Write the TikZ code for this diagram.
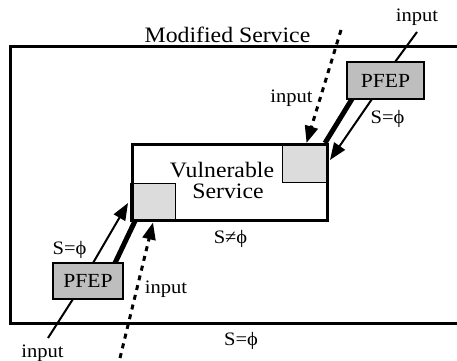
\documentclass[tikz,border=0pt]{standalone}
\usepackage{fontspec}
\setmainfont[FakeStretch=1.08]{Liberation Serif}
\usetikzlibrary{arrows.meta,calc}
\definecolor{pgray}{RGB}{190,190,190}
\definecolor{lgray}{RGB}{220,220,220}
\begin{document}
\begin{tikzpicture}[x=1pt,y=-1pt,
  lbl/.style={font=\fontsize{19}{21}\selectfont, inner sep=0, anchor=base},
  pfep/.style={draw, line width=2.5pt, fill=pgray, inner sep=0, outer sep=0,
    font=\fontsize{20}{22}\selectfont},
  sqbox/.style={draw, line width=0.8pt, fill=lgray, inner sep=0, outer sep=0},
  vbox/.style={draw, line width=3pt, inner sep=0, outer sep=0, align=center,
    font=\fontsize{22}{21}\selectfont, minimum width=195pt, minimum height=76pt},
  tipS/.style={-{Triangle[length=17pt,width=13pt]}},
  thinarrow/.style={line width=2pt, tipS},
  thickline/.style={line width=5pt},
  dotarrow/.style={line width=3pt, dash pattern=on 5pt off 5pt, tipS},
  frame/.style={line width=3pt},
]
\useasboundingbox (0,0) rectangle (457,360);

% outer (modified service) frame, open to the right
\draw[frame] (457,46.5) -- (10,46.5) -- (10,323) -- (457,323);
\node[inner sep=0, anchor=base, font=\fontsize{22}{24}\selectfont] (mod) at (227.5,42) {Modified Service};

% gray squares inside the vulnerable service
\node[sqbox, minimum width=45pt, minimum height=37pt] (sqU) at (304.5,163.5) {};
\node[sqbox, minimum width=45pt, minimum height=38pt] (sqL) at (153,202) {};

% vulnerable service box
\node[vbox] (vs) at (229.5,182) {};
\node[inner sep=0, anchor=base, font=\fontsize{22}{24}\selectfont] (vs1) at (222,177) {Vulnerable};
\node[inner sep=0, anchor=base, font=\fontsize{22}{24}\selectfont] (vs2) at (228,198) {Service};

% PFEP boxes
\node[pfep, minimum width=77pt, minimum height=37pt] (pU) at (385.5,80.5) {PFEP};
\node[pfep, minimum width=70pt, minimum height=36pt] (pL) at (88,281) {PFEP};

% free ends
\coordinate (inUend) at (417,32);
\coordinate (dotUstart) at (341,30);
\coordinate (inLend) at (48,338);
\coordinate (dotLstart) at (120,358);

% upper connectors
\draw[line width=2pt] ($(pU.north west)+(48,0)$) -- (inUend);
\draw[thickline] ($(pU.south west)+(5,0)$) -- ($(vs.north east)+(-2,-1)$);
\draw[thinarrow] ($(pU.south west)+(25,0)$) -- ($(vs.north east)+(3,16)$);
\draw[dotarrow] (dotUstart) -- ($(sqU.north)+(2,-2)$);

% lower connectors
\draw[line width=2pt] ($(pL.south west)+(20,0)$) -- (inLend);
\draw[thickline] ($(pL.north east)+(-8,0)$) -- ($(vs.south west)+(3,1)$);
\draw[thinarrow] ($(pL.north west)+(40,0)$) -- ($(vs.south west)+(-4,-17)$);
\draw[dotarrow] (dotLstart) -- ($(sqL.south)+(0,1.5)$);

% labels
\node[lbl] (inU) at (417,21) {input};
\node[lbl] (inUd) at (291.5,102) {input};
\node[lbl] (sU) at (387.5,123) {S=ϕ};
\node[lbl] (sL) at (69.5,254) {S=ϕ};
\node[lbl] (sNe) at (230.5,243) {S≠ϕ};
\node[lbl] (inLd) at (166,293) {input};
\node[lbl] (inL) at (42.5,357) {input};
\node[lbl] (sB) at (241,345) {S=ϕ};
\end{tikzpicture}
\end{document}
